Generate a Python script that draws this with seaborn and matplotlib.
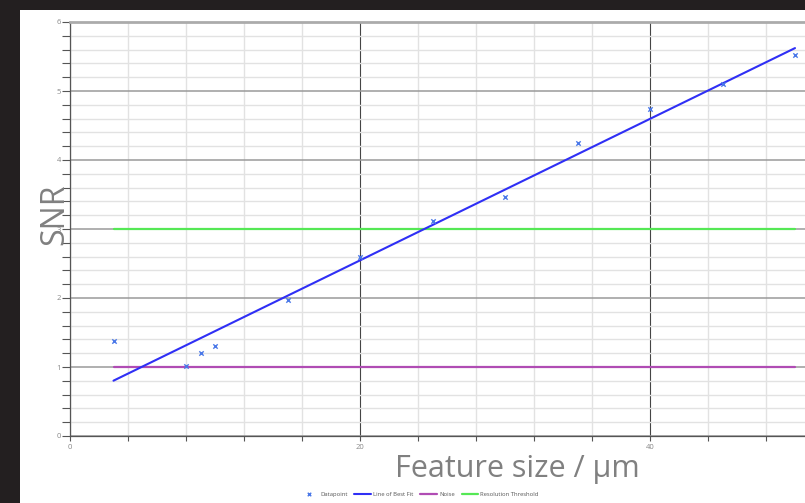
#!/usr/bin/env python3

import numpy as np
import pandas as pd
import seaborn as sns
from matplotlib import pyplot as plt
from matplotlib.patches import Rectangle
from matplotlib.ticker import MultipleLocator

# values
feature_size = [3, 8, 9, 10, 15, 20, 25, 30, 35, 40, 45, 50]
snr = [1.38, 1.02, 1.2, 1.3, 1.97, 2.6, 3.12, 3.47, 4.25, 4.74, 5.1, 5.52]
noise_level = 1.0
resolution_threshold = 3.0

legend_labels = ["Datapoint", "Line of Best Fit", "Noise", "Resolution Threshold"]


def plot_snr():
    sns.set_style("white")
    plt.rcParams["font.family"] = ["Open Sans", "DejaVu Sans"]

    fig = plt.figure(figsize=(8.05, 5.03), dpi=100)
    fig.patch.set_facecolor("#231f20")
    fig.patches.append(Rectangle((20 / 805, 0), 1, 493 / 503, transform=fig.transFigure,
                                 facecolor="white", edgecolor="none", zorder=-10))
    ax = fig.add_axes([70 / 805, 67 / 503, 735 / 805, 414 / 503])
    ax.set_facecolor("none")

    points = pd.DataFrame({"Feature size": feature_size, "SNR": snr})
    slope, intercept = np.polyfit(feature_size, snr, 1)
    x_range = [min(feature_size), max(feature_size)]
    fit = pd.DataFrame({"x": x_range, "y": [slope * x + intercept for x in x_range]})
    noise = pd.DataFrame({"x": x_range, "y": [noise_level] * 2})
    threshold = pd.DataFrame({"x": x_range, "y": [resolution_threshold] * 2})

    sns.lineplot(threshold, x="x", y="y", ax=ax, color="#55e855", lw=1.6, label=legend_labels[3], zorder=3)
    sns.lineplot(noise, x="x", y="y", ax=ax, color="#b04cb4", lw=1.6, label=legend_labels[2], zorder=3)
    sns.lineplot(fit, x="x", y="y", ax=ax, color="#2f2ff5", lw=1.5, label=legend_labels[1], zorder=4)
    sns.scatterplot(points, x="Feature size", y="SNR", ax=ax, marker="x", s=10, linewidth=1.0,
                    color="#4a78e8", label=legend_labels[0], zorder=5)

    ax.set_xlim(0, 735 / 14.5)
    ax.set_ylim(0, 6)

    ax.xaxis.set_major_locator(MultipleLocator(20))
    ax.xaxis.set_minor_locator(MultipleLocator(4))
    ax.yaxis.set_major_locator(MultipleLocator(1))
    ax.yaxis.set_minor_locator(MultipleLocator(0.2))

    ax.grid(which="minor", color="#e2e2e2", lw=1.0, zorder=0)
    ax.grid(which="major", axis="y", color="#9a9a9a", lw=1.1, zorder=1)
    ax.grid(which="major", axis="x", color="#454545", lw=0.8, zorder=1)
    ax.set_axisbelow(True)

    ax.tick_params(axis="y", which="both", direction="out", length=5.5, width=0.8,
                   color="#555555", left=True, labelsize=5.5, labelcolor="#888888", pad=1)
    ax.tick_params(axis="x", which="both", direction="out", length=3.5, width=0.8,
                   color="#555555", bottom=True, labelsize=5.5, labelcolor="#888888", pad=2)

    for side in ["left", "bottom"]:
        ax.spines[side].set_color("#555555")
        ax.spines[side].set_linewidth(0.9)
    ax.spines["right"].set_visible(False)
    ax.spines["top"].set_color("#ababab")
    ax.spines["top"].set_linewidth(2)

    ax.set_xlabel("")
    ax.set_ylabel("")
    fig.text(55 / 805, 1 - 214 / 503, "SNR", rotation=90, fontsize=23, color="#808080",
             ha="center", va="center")
    fig.text(517 / 805, 1 - 469 / 503, "Feature size / µm", fontsize=22, color="#808080",
             ha="center", va="center")

    handles, labels = ax.get_legend_handles_labels()
    order = [labels.index(name) for name in legend_labels]
    ax.get_legend().remove()
    fig.legend([handles[i] for i in order], [labels[i] for i in order], loc="center",
               bbox_to_anchor=(420 / 805, 1 - 494 / 503), ncol=4, frameon=False, fontsize=4.2,
               handlelength=2.8, columnspacing=1.2, handletextpad=0.4, labelcolor="#555555",
               markerscale=0.8)

    plt.savefig("out.png", dpi=100, facecolor=fig.get_facecolor())
    plt.close()


def main():
    plot_snr()


if __name__ == '__main__':
    main()
